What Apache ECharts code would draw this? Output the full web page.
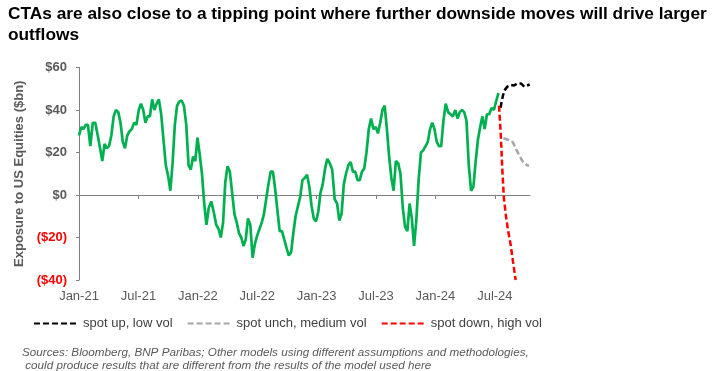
<!DOCTYPE html>
<html>
<head>
<meta charset="utf-8">
<script src="https://cdn.jsdelivr.net/npm/echarts@6/dist/echarts.min.js"></script>
<style>
html,body{margin:0;padding:0;background:#fff;}
#chart{width:720px;height:371px;}
</style>
</head>
<body>
<div id="chart"></div>
<script>
// ---- Data ----
// Weekly CTA exposure to US equities ($bn), weeks starting 2021-01-01
var greenStart = '2021-01-01';
var greenWeekly = [
  28, 32, 31, 33, 33, 23, 34, 34, 28, 22, 16, 24, 22, 23, 28, 37, 40, 39, 34, 25,
  22, 28, 30, 31, 34, 33, 40, 43, 40, 34, 37, 37, 45, 40, 43, 45, 38, 26, 14, 9,
  2, 15, 33, 42, 44, 44.5, 42, 33, 14, 12, 18, 16, 27, 19, 10, -4, -14, -6, -3, -8,
  -14, -16, -20, -13, 6, 13.5, 11, 1, -9, -13, -18, -20, -24, -21, -11, -14, -29.5, -23, -19, -16,
  -13, -9, -2, 5, 11, 11, 3, -7, -17, -17, -21, -25, -28.5, -27, -18, -10, -5.5, -1, 7, 8,
  9.5, 4, -5, -11, -12.5, -8, 1, 5, 12, 17, 15, 12, -2, -4, -12, -9, 5, 10, 14, 15.5,
  11, 11, 7, 7, 11, 12.5, 20, 31, 36, 31, 32, 29, 34, 40, 42, 31, 18, 8, 2, 16,
  15, 10, -6, -15, -17, -4, -11, -24, -12, 7, 20, 21, 23, 25, 31, 34, 31, 25, 23, 23,
  35, 43, 39, 38, 37, 40, 36, 39, 40, 39, 35, 14, 2, 4, 16, 26, 32, 37, 31, 38,
  38, 41, 40, 44, 48
];

// Scenario projections
var upDates    = ['2024-07-19','2024-07-22','2024-07-30','2024-08-09','2024-08-19','2024-08-30','2024-09-09','2024-09-20','2024-09-30','2024-10-08','2024-10-17'];
var upValues   = [41, 44, 49, 51, 51.8, 51.5, 52.5, 52.5, 51, 51.5, 52];
var unchDates  = ['2024-07-28','2024-08-02','2024-08-12','2024-08-23','2024-08-28','2024-09-07','2024-09-17','2024-09-27','2024-10-09','2024-10-15'];
var unchValues = [26.7, 27, 26, 25.5, 24.3, 21, 18, 15.4, 14, 13.8];
var downDates  = ['2024-07-14','2024-07-20','2024-07-24','2024-07-29','2024-08-04','2024-08-11','2024-08-19','2024-08-26','2024-09-04'];
var downValues = [42, 27, 13, -1, -9, -16.5, -23, -30.5, -40];

var xTickMonths = [0, 6, 12, 18, 24, 30, 36, 42];
var xTickLabels = ['Jan-21', 'Jul-21', 'Jan-22', 'Jul-22', 'Jan-23', 'Jul-23', 'Jan-24', 'Jul-24'];
var axisEnd = '2024-10-18';

var seriesNames = ['spot up, low vol', 'spot unch, medium vol', 'spot down, high vol'];

// ---- Helpers ----
function monthCoord(d) {
  var y = d.getUTCFullYear(), m = d.getUTCMonth(), day = d.getUTCDate();
  var dim = new Date(Date.UTC(y, m + 1, 0)).getUTCDate();
  return (y - 2021) * 12 + m + (day - 1) / dim;
}
function parse(s) { var p = s.split('-'); return new Date(Date.UTC(+p[0], +p[1] - 1, +p[2])); }

var base = parse(greenStart).getTime();
var greenData = greenWeekly.map(function (v, i) {
  return [monthCoord(new Date(base + i * 7 * 86400000)), v];
});
function pairs(dates, vals) { return dates.map(function (d, i) { return [monthCoord(parse(d)), vals[i]]; }); }

var xMax = monthCoord(parse(axisEnd));
var FONT = 'Liberation Sans, Arial, sans-serif';
var GRAY = '#595959';

var chart = echarts.init(document.getElementById('chart'), null, {renderer: 'canvas'});
chart.setOption({
  animation: false,
  backgroundColor: '#fff',
  title: {
    text: 'CTAs are also close to a tipping point where further downside moves will drive larger\noutflows',
    left: 8, top: 4, padding: 0,
    textStyle: {fontFamily: FONT, fontSize: 17.3, fontWeight: 'bold', color: '#000', lineHeight: 21}
  },
  legend: {
    data: seriesNames,
    left: 33, top: 317, padding: 0,
    itemWidth: 44, itemHeight: 10, itemGap: 14,
    itemStyle: {opacity: 0},
    textStyle: {fontFamily: FONT, fontSize: 13, color: '#404040'}
  },
  graphic: [{
    type: 'text', left: 22, top: 346,
    style: {
      text: 'Sources: Bloomberg, BNP Paribas; Other models using different assumptions and methodologies,\n could produce results that are different from the results of the model used here',
      font: 'italic 11.7px ' + FONT, fill: GRAY, lineHeight: 13
    }
  }],
  grid: {left: 79, right: 190, top: 67.5, bottom: 91, containLabel: false},
  xAxis: [{
    type: 'value', min: 0, max: xMax,
    axisLine: {onZero: true, lineStyle: {color: '#808080', width: 1}},
    axisTick: {show: true, customValues: xTickMonths, length: 4, lineStyle: {color: '#808080'}},
    axisLabel: {show: false},
    splitLine: {show: false}
  }, {
    type: 'value', min: 0, max: xMax, position: 'bottom',
    axisLine: {show: false, onZero: false},
    axisTick: {show: false},
    axisLabel: {
      show: true, customValues: xTickMonths, margin: 10,
      fontFamily: FONT, fontSize: 13, color: GRAY,
      formatter: function (v) { var k = xTickMonths.indexOf(Math.round(v)); return k >= 0 ? xTickLabels[k] : ''; }
    },
    splitLine: {show: false}
  }],
  yAxis: {
    type: 'value', min: -40, max: 60, interval: 20,
    name: 'Exposure to US Equities ($bn)', nameLocation: 'middle', nameGap: 51,
    nameTextStyle: {fontFamily: FONT, fontSize: 13, fontWeight: 'bold', color: GRAY},
    axisLine: {show: true, lineStyle: {color: '#808080', width: 1}},
    axisTick: {show: true, length: 3, lineStyle: {color: '#808080'}},
    axisLabel: {
      margin: 12, fontFamily: FONT, fontSize: 13, fontWeight: 'bold',
      color: function (v) { return +v < 0 ? '#FF0000' : GRAY; },
      formatter: function (v) { return v < 0 ? '($' + (-v) + ')' : '$' + v; }
    },
    splitLine: {show: false}
  },
  series: [{
    name: 'CTA exposure', type: 'line', data: greenData, showSymbol: false, symbol: 'none',
    lineStyle: {color: '#00B050', width: 2.7}, z: 3
  }, {
    name: seriesNames[0], type: 'line', data: pairs(upDates, upValues), showSymbol: false, symbol: 'none',
    itemStyle: {color: '#000000'},
    lineStyle: {color: '#000000', width: 2.5, type: [6, 3]}, z: 4
  }, {
    name: seriesNames[1], type: 'line', data: pairs(unchDates, unchValues), showSymbol: false, symbol: 'none',
    itemStyle: {color: '#A6A6A6'},
    lineStyle: {color: '#A6A6A6', width: 2.5, type: [6, 3]}, z: 4
  }, {
    name: seriesNames[2], type: 'line', data: pairs(downDates, downValues), showSymbol: false, symbol: 'none',
    itemStyle: {color: '#FF0000'},
    lineStyle: {color: '#FF0000', width: 2.5, type: [6, 3]}, z: 4
  }]
});
</script>
</body>
</html>
